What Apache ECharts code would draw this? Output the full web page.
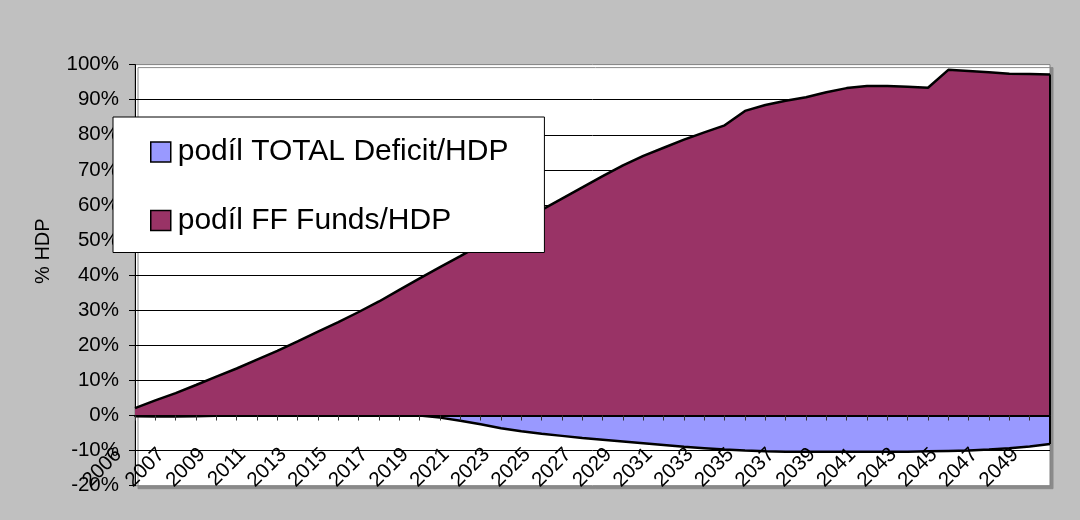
<!DOCTYPE html>
<html><head><meta charset="utf-8">
<script src="https://cdn.jsdelivr.net/npm/echarts@6/dist/echarts.min.js"></script>
<style>html,body{margin:0;padding:0;background:#C0C0C0;}#c{width:1080px;height:520px;}</style>
</head><body><div id="c"></div>
<script>
const years = ['2006','2007','2008','2009','2010','2011','2012','2013','2014','2015','2016','2017','2018','2019','2020','2021','2022','2023','2024','2025','2026','2027','2028','2029','2030','2031','2032','2033','2034','2035','2036','2037','2038','2039','2040','2041','2042','2043','2044','2045','2046','2047','2048','2049','2050','2051'];
const ffFunds = [2.1,4.3,6.4,8.7,11.1,13.4,15.9,18.4,21.1,23.9,26.6,29.5,32.5,35.8,39.1,42.3,45.4,48.7,52.0,55.3,58.6,61.8,65.0,68.2,71.3,74.0,76.3,78.6,80.7,82.7,86.8,88.5,89.7,90.7,92.1,93.3,93.9,93.9,93.7,93.4,98.5,98.2,97.8,97.4,97.3,97.2];
const totalDeficit = [-0.2,-0.3,-0.3,-0.2,-0.1,0,0,0,0,0,0,0,0,0,0,-0.6,-1.5,-2.5,-3.6,-4.5,-5.2,-5.8,-6.4,-6.9,-7.4,-7.9,-8.4,-8.9,-9.3,-9.7,-10.0,-10.2,-10.3,-10.3,-10.3,-10.3,-10.3,-10.3,-10.3,-10.2,-10.1,-10.0,-9.7,-9.3,-8.8,-8.1];
const seriesNames = ['podíl TOTAL Deficit/HDP','podíl FF Funds/HDP'];
const yTicks = {min:-20, max:100, step:10};

const FONT = 'Liberation Sans, Arial, sans-serif';
const last = years.length - 1;
const G = {left:135, right:30, top:64.6, bottom:34.3};
const gridH = 520 - G.top - G.bottom;
const zeroOffset = -gridH * (0 - yTicks.min) / (yTicks.max - yTicks.min);
const chart = echarts.init(document.getElementById('c'), null, {renderer:'canvas'});
chart.setOption({
  backgroundColor:'#C0C0C0',
  animation:false,
  textStyle:{fontFamily:FONT, color:'#000'},
  grid:{left:G.left, right:G.right, top:G.top, bottom:G.bottom, containLabel:false, outerBoundsMode:'none',
        show:true, backgroundColor:'#fff', borderColor:'#808080', borderWidth:1,
        shadowColor:'#8a8a8a', shadowOffsetX:3, shadowOffsetY:3, shadowBlur:0},
  legend:{
    orient:'vertical', left:113, top:117, icon:'rect', itemWidth:20, itemHeight:20, itemGap:38.5,
    padding:[20,36,17,37], backgroundColor:'#fff', borderColor:'#000', borderWidth:1,
    textStyle:{fontSize:30, fontFamily:FONT, color:'#000', padding:[0,0,0,2]},
    data:[
      {name:seriesNames[0], itemStyle:{color:'#9999FF', borderColor:'#000', borderWidth:1.5}},
      {name:seriesNames[1], itemStyle:{color:'#993366', borderColor:'#000', borderWidth:1.5}}
    ]
  },
  xAxis:{
    type:'category', data:years, boundaryGap:false, offset:zeroOffset, z:4,
    axisLine:{onZero:false, lineStyle:{color:'#000', width:2}},
    axisTick:{show:true, interval:0, length:5, lineStyle:{color:'#333'}},
    axisLabel:{
      rotate:45, fontSize:20.5, fontFamily:FONT, color:'#000', margin:30, padding:[17,0,0,0],
      interval:function(i){ return i===0 || (i%2===1 && i < last-1); },
      formatter:function(v,i){ return i===0 ? '{f|'+v+'}' : v; },
      rich:{f:{fontSize:20.5, fontFamily:FONT, color:'#000', padding:[0,16,32,0]}}
    },
    splitLine:{show:false}
  },
  yAxis:{
    type:'value', min:yTicks.min, max:yTicks.max, interval:yTicks.step,
    name:'% HDP', nameLocation:'middle', nameRotate:90, nameGap:82,
    nameTextStyle:{fontSize:20, fontFamily:FONT, color:'#000', padding:[0,0,0,48]},
    axisLine:{show:true, onZero:false, lineStyle:{color:'#000', width:1}},
    axisTick:{show:true, length:6, lineStyle:{color:'#000'}},
    axisLabel:{formatter:'{value}%', fontSize:20.5, fontFamily:FONT, color:'#000', margin:16},
    splitLine:{show:true, showMinLine:false, showMaxLine:false, lineStyle:{color:'#000', width:1}}
  },
  series:[
    {name:seriesNames[0], type:'line', data:totalDeficit, symbol:'none', z:2,
     itemStyle:{color:'#9999FF'}, lineStyle:{color:'#000', width:2.5},
     areaStyle:{color:'#9999FF', opacity:1},
     markLine:{silent:true, symbol:'none', label:{show:false}, lineStyle:{color:'#000', width:2, type:'solid'},
       data:[[{coord:[years[last], 0]},{coord:[years[last], totalDeficit[last]]}]]}},
    {name:seriesNames[1], type:'line', data:ffFunds, symbol:'none', z:3,
     itemStyle:{color:'#993366'}, lineStyle:{color:'#000', width:2.5},
     areaStyle:{color:'#993366', opacity:1},
     markLine:{silent:true, symbol:'none', label:{show:false}, lineStyle:{color:'#000', width:2, type:'solid'},
       data:[[{coord:[years[last], 0]},{coord:[years[last], ffFunds[last]]}]]}}
  ]
});
</script></body></html>
